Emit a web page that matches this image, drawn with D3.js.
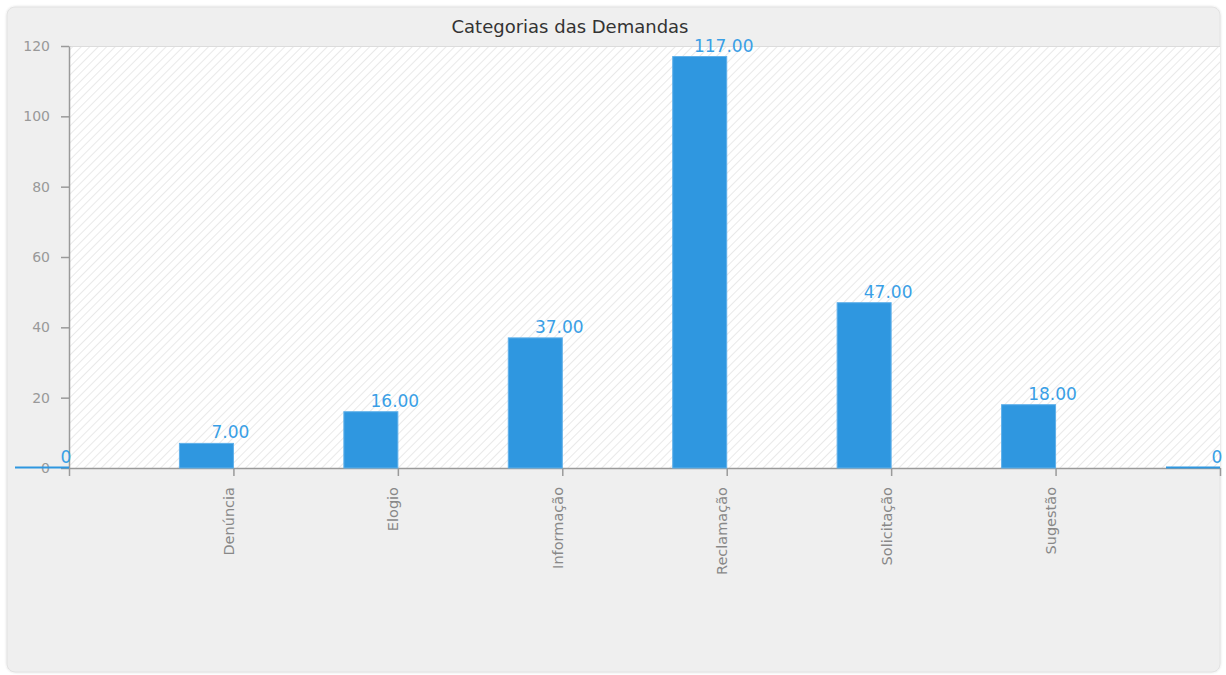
<!DOCTYPE html>
<html><head><meta charset="utf-8">
<script src="https://cdn.jsdelivr.net/npm/d3@7"></script>
<style>body{margin:0;background:#fff;}svg{display:block;}</style>
</head><body>
<script>
const title = "Categorias das Demandas";
const categories = ["", "Denúncia", "Elogio", "Informação", "Reclamação", "Solicitação", "Sugestão", " "];
const values = [0, 7, 16, 37, 117, 47, 18, 0];
const valueLabels = ["0", "7.00", "16.00", "37.00", "117.00", "47.00", "18.00", "0"];
const yTicks = [0, 20, 40, 60, 80, 100, 120];

const W = 1226, H = 675;
const svg = d3.select("body").append("svg").attr("width", W).attr("height", H);
const font = "'DejaVu Sans', Verdana, sans-serif";

const defs = svg.append("defs");
const pat = defs.append("pattern").attr("id", "hatch").attr("patternUnits", "userSpaceOnUse")
  .attr("width", 6).attr("height", 6).attr("patternTransform", "rotate(45)");
pat.append("rect").attr("width", 6).attr("height", 6).attr("fill", "#ffffff");
pat.append("line").attr("x1", 0).attr("y1", 0).attr("x2", 0).attr("y2", 6)
  .attr("stroke", "#e4e4e4").attr("stroke-width", 1.6);
const f = defs.append("filter").attr("id", "sh").attr("x", "-5%").attr("y", "-5%").attr("width", "110%").attr("height", "110%");
f.append("feDropShadow").attr("dx", 0).attr("dy", 0).attr("stdDeviation", 1.2).attr("flood-color", "#000").attr("flood-opacity", 0.15);

// panel
svg.append("rect").attr("x", 7).attr("y", 7).attr("width", 1213).attr("height", 665)
  .attr("rx", 8).attr("fill", "#efefef").attr("stroke", "#e2e2e2").attr("filter", "url(#sh)");

const pLeft = 69, pRight = 1220, pTop = 46, pBottom = 468;
const x = d3.scalePoint().domain(d3.range(categories.length)).range([pLeft, pRight]);
const y = d3.scaleLinear().domain([0, 120]).range([pBottom, pTop]);
const barW = 54;

// plot background
svg.append("rect").attr("x", pLeft).attr("y", pTop).attr("width", pRight - pLeft).attr("height", pBottom - pTop)
  .attr("fill", "url(#hatch)");
svg.append("line").attr("x1", pLeft).attr("x2", pRight).attr("y1", pTop + 0.5).attr("y2", pTop + 0.5)
  .attr("stroke", "#dcdcdc");

// title
svg.append("text").attr("x", 570).attr("y", 33).attr("text-anchor", "middle")
  .attr("font-family", font).attr("font-size", 18).attr("fill", "#333").text(title);

// y axis
const yAxis = svg.append("g").attr("transform", `translate(${pLeft},0)`)
  .call(d3.axisLeft(y).tickValues(yTicks).tickSize(8).tickSizeOuter(0).tickPadding(11));
yAxis.select(".domain").attr("stroke", "#9a9a9a").attr("stroke-width", 1.5);
yAxis.selectAll(".tick line").attr("stroke", "#9a9a9a").attr("stroke-width", 1.5);
yAxis.selectAll(".tick text").attr("font-family", font).attr("font-size", 14).attr("fill", "#999");

// x axis
const xAxis = svg.append("g").attr("transform", `translate(0,${pBottom})`)
  .call(d3.axisBottom(x).tickSize(8).tickSizeOuter(0).tickFormat(i => categories[i]));
xAxis.select(".domain").attr("stroke", "#9a9a9a").attr("stroke-width", 1.5);
xAxis.selectAll(".tick line").attr("stroke", "#9a9a9a").attr("stroke-width", 1.5);
xAxis.selectAll(".tick text").attr("font-family", font).attr("font-size", 14.5).attr("fill", "#888")
  .attr("text-anchor", "end").attr("dy", "0.35em")
  .attr("transform", "rotate(-90)").attr("x", -19).attr("y", -5);

// bars
const idx = d3.range(values.length);
svg.append("g").selectAll("rect").data(idx).join("rect")
  .attr("x", i => x(i) - barW)
  .attr("y", i => y(values[i]) - (values[i] === 0 ? 1.5 : 0))
  .attr("width", barW)
  .attr("height", i => Math.max(2, pBottom - y(values[i])))
  .attr("fill", "#2f97e0").attr("stroke", i => values[i] === 0 ? "none" : "#5fb0ea").attr("stroke-width", 1);

// value labels
svg.append("g").selectAll("text").data(idx).join("text")
  .attr("x", i => x(i) - 3)
  .attr("y", i => y(values[i]) - 5)
  .attr("text-anchor", "middle")
  .attr("font-family", font).attr("font-size", 17).attr("fill", "#3a9fe6")
  .text(i => valueLabels[i]);
</script>
</body></html>
